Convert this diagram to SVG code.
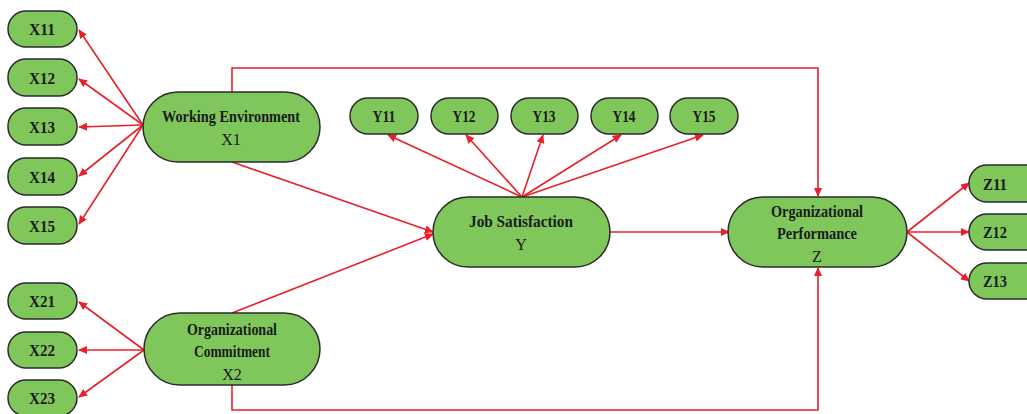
<svg xmlns="http://www.w3.org/2000/svg" width="1027" height="414" viewBox="0 0 1027 414">
<style>
.n{fill:#7fc75a;stroke:#2b2b2b;stroke-width:1.5}
.t{font-family:"Liberation Serif","Times New Roman",serif;font-size:16px;fill:#1a1a1a;text-anchor:middle}
.b{font-weight:bold}
.c{fill:none;stroke:#e8202a;stroke-width:1.6}
</style>
<defs>
<marker id="a" viewBox="0 0 10 10" refX="9" refY="5" markerWidth="9" markerHeight="9" markerUnits="userSpaceOnUse" orient="auto">
<path d="M0,0.5 L10,5 L0,9.5 z" fill="#e8202a"/>
</marker>
</defs>
<rect width="1027" height="414" fill="#ffffff"/>
<g id="connectors">
<path class="c" marker-end="url(#a)" d="M143,125 L79,30"/>
<path class="c" marker-end="url(#a)" d="M143,125 L79,79"/>
<path class="c" marker-end="url(#a)" d="M143,125 L79,127"/>
<path class="c" marker-end="url(#a)" d="M143,125 L79,176"/>
<path class="c" marker-end="url(#a)" d="M143,125 L79,224"/>
<path class="c" marker-end="url(#a)" d="M144,350 L79,302"/>
<path class="c" marker-end="url(#a)" d="M144,350 L79,350"/>
<path class="c" marker-end="url(#a)" d="M144,350 L79,397"/>
<path class="c" marker-end="url(#a)" d="M522,197 L388,135"/>
<path class="c" marker-end="url(#a)" d="M522,197 L466,135"/>
<path class="c" marker-end="url(#a)" d="M522,197 L543,135"/>
<path class="c" marker-end="url(#a)" d="M522,197 L621,135"/>
<path class="c" marker-end="url(#a)" d="M522,197 L703,135"/>
<path class="c" marker-end="url(#a)" d="M907,232 L969,183"/>
<path class="c" marker-end="url(#a)" d="M907,232 L969,232"/>
<path class="c" marker-end="url(#a)" d="M907,232 L969,281"/>
<path class="c" marker-end="url(#a)" d="M232,162 L433,232"/>
<path class="c" marker-end="url(#a)" d="M232,313 L433,234"/>
<path class="c" marker-end="url(#a)" d="M610,232 L729,232"/>
<path class="c" marker-end="url(#a)" d="M232,92 L232,68 L818,68 L818,196"/>
<path class="c" marker-end="url(#a)" d="M232,385 L232,410 L818,410 L818,268"/>
</g>
<g id="X11"><rect class="n" x="8" y="11" width="69" height="36" rx="18"/><text class="t b" x="42" y="35" textLength="26" lengthAdjust="spacingAndGlyphs">X11</text></g>
<g id="X12"><rect class="n" x="8" y="59" width="69" height="37" rx="18"/><text class="t b" x="42" y="84" textLength="26" lengthAdjust="spacingAndGlyphs">X12</text></g>
<g id="X13"><rect class="n" x="8" y="108" width="69" height="37" rx="18"/><text class="t b" x="42" y="133" textLength="26" lengthAdjust="spacingAndGlyphs">X13</text></g>
<g id="X14"><rect class="n" x="8" y="158" width="69" height="37" rx="18"/><text class="t b" x="42" y="183" textLength="26" lengthAdjust="spacingAndGlyphs">X14</text></g>
<g id="X15"><rect class="n" x="8" y="207" width="69" height="37" rx="18"/><text class="t b" x="42" y="232" textLength="26" lengthAdjust="spacingAndGlyphs">X15</text></g>
<g id="X21"><rect class="n" x="8" y="283" width="69" height="36" rx="18"/><text class="t b" x="42" y="307" textLength="26" lengthAdjust="spacingAndGlyphs">X21</text></g>
<g id="X22"><rect class="n" x="8" y="332" width="69" height="36" rx="18"/><text class="t b" x="42" y="356" textLength="26" lengthAdjust="spacingAndGlyphs">X22</text></g>
<g id="X23"><rect class="n" x="8" y="380" width="69" height="36" rx="18"/><text class="t b" x="42" y="404" textLength="26" lengthAdjust="spacingAndGlyphs">X23</text></g>
<g id="X1"><rect class="n" x="143" y="92" width="177" height="70" rx="35"/><text class="t b" x="231" y="122" textLength="138" lengthAdjust="spacingAndGlyphs">Working Environment</text><text class="t" x="231" y="145">X1</text></g>
<g id="X2"><rect class="n" x="144" y="313" width="176" height="72" rx="36"/><text class="t b" x="232" y="335" textLength="90" lengthAdjust="spacingAndGlyphs">Organizational</text><text class="t b" x="232" y="357" textLength="76" lengthAdjust="spacingAndGlyphs">Commitment</text><text class="t" x="232" y="380">X2</text></g>
<g id="Y11"><rect class="n" x="350" y="98" width="68" height="36" rx="18"/><text class="t b" x="384" y="122" textLength="23" lengthAdjust="spacingAndGlyphs">Y11</text></g>
<g id="Y12"><rect class="n" x="431" y="98" width="67" height="36" rx="18"/><text class="t b" x="464" y="122" textLength="23" lengthAdjust="spacingAndGlyphs">Y12</text></g>
<g id="Y13"><rect class="n" x="511" y="98" width="67" height="36" rx="18"/><text class="t b" x="544" y="122" textLength="23" lengthAdjust="spacingAndGlyphs">Y13</text></g>
<g id="Y14"><rect class="n" x="591" y="98" width="67" height="36" rx="18"/><text class="t b" x="624" y="122" textLength="23" lengthAdjust="spacingAndGlyphs">Y14</text></g>
<g id="Y15"><rect class="n" x="670" y="98" width="68" height="36" rx="18"/><text class="t b" x="704" y="122" textLength="23" lengthAdjust="spacingAndGlyphs">Y15</text></g>
<g id="Y"><rect class="n" x="433" y="197" width="177" height="70" rx="35"/><text class="t b" x="521" y="227" textLength="104" lengthAdjust="spacingAndGlyphs">Job Satisfaction</text><text class="t" x="521" y="250">Y</text></g>
<g id="Z"><rect class="n" x="728" y="197" width="179" height="70" rx="35"/><text class="t b" x="817" y="217" textLength="92" lengthAdjust="spacingAndGlyphs">Organizational</text><text class="t b" x="817" y="239" textLength="80" lengthAdjust="spacingAndGlyphs">Performance</text><text class="t" x="817" y="262">Z</text></g>
<g id="Z11"><rect class="n" x="969" y="165" width="80" height="37" rx="18"/><text class="t b" x="995" y="190" textLength="24" lengthAdjust="spacingAndGlyphs">Z11</text></g>
<g id="Z12"><rect class="n" x="969" y="214" width="80" height="36" rx="18"/><text class="t b" x="995" y="238" textLength="24" lengthAdjust="spacingAndGlyphs">Z12</text></g>
<g id="Z13"><rect class="n" x="969" y="263" width="80" height="36" rx="18"/><text class="t b" x="995" y="287" textLength="24" lengthAdjust="spacingAndGlyphs">Z13</text></g>
</svg>
